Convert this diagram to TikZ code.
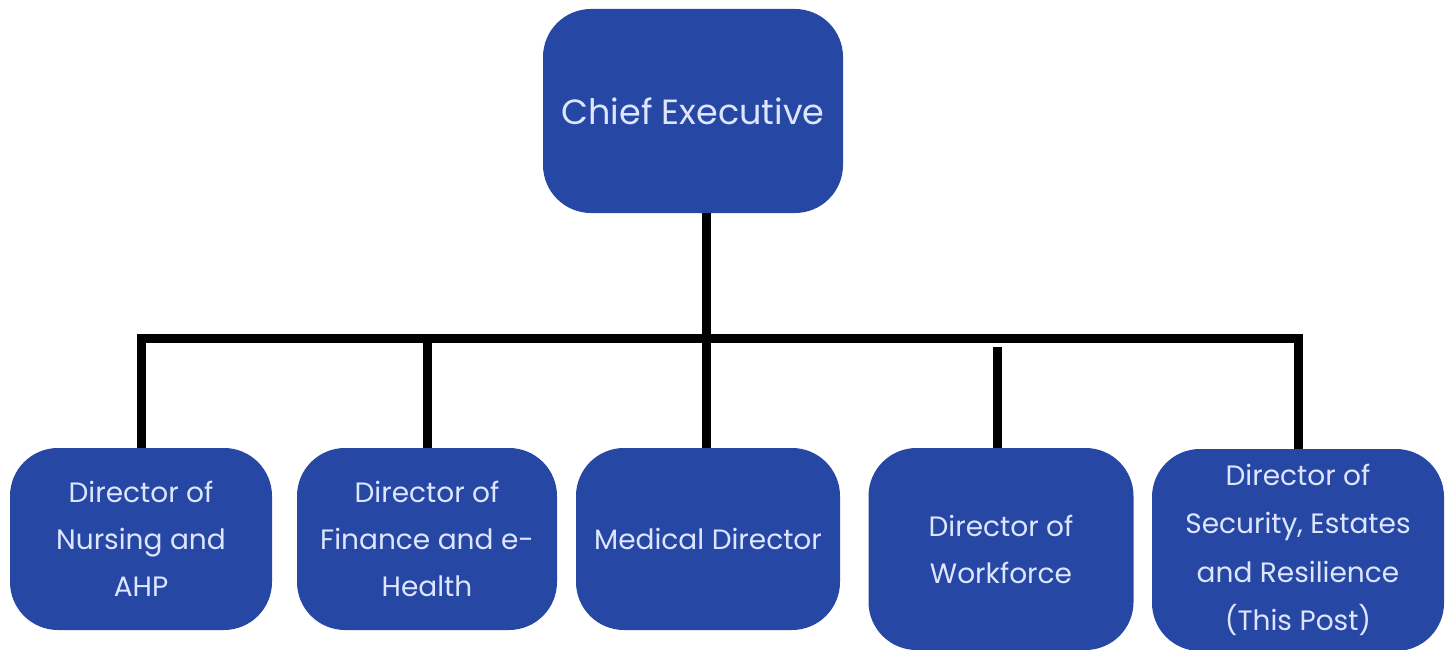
\documentclass[tikz,border=0pt]{standalone}
\usepackage{fontspec}
\setmainfont{Poppins}
\definecolor{boxblue}{RGB}{38,71,164}
\definecolor{boxtext}{RGB}{222,230,255}
\begin{document}
\begin{tikzpicture}[x=1pt,y=1pt,
  orgbox/.style={draw=none, fill=boxblue, rounded corners=48pt, text=boxtext,
    align=center, inner sep=0pt, font=\fontsize{28}{47}\selectfont},
  link/.style={line width=9pt, draw=black}]
\useasboundingbox (0,0) rectangle (1456,-650);
\node[orgbox, minimum width=300, minimum height=204, font=\fontsize{35}{38}\selectfont] (chief) at (693,-111) {Chief Executive};
\node[orgbox, minimum width=262, minimum height=182] (b1) at (141,-539) {Director of\\Nursing and\\AHP};
\node[orgbox, minimum width=260, minimum height=182] (b2) at (427,-539) {Director of\\Finance and e-\\Health};
\node[orgbox, minimum width=264, minimum height=182] (b3) at (708,-539) {Medical Director};
\node[orgbox, minimum width=265, minimum height=202] (b4) at (1001,-549) {Director of\\Workforce};
\node[orgbox, minimum width=292, minimum height=202, font=\fontsize{28}{48.5}\selectfont] (b5) at (1298,-550) {Director of\\Security, Estates\\and Resilience\\(This Post)};
\coordinate (bus) at (0,-338);
\coordinate (gap) at (0,-347);
\draw[link, line join=miter] (b1.north) -- (b1.north |- bus) -- (b5.north |- bus) -- (b5.north);
\draw[link] ([xshift=-2pt]b3.north) -- ([xshift=-2pt]b3.north |- chief.south);
\draw[link] (b2.north) -- (b2.north |- bus);
\draw[link] ([xshift=-4pt]b4.north) -- ([xshift=-4pt]b4.north |- gap);
\end{tikzpicture}
\end{document}
